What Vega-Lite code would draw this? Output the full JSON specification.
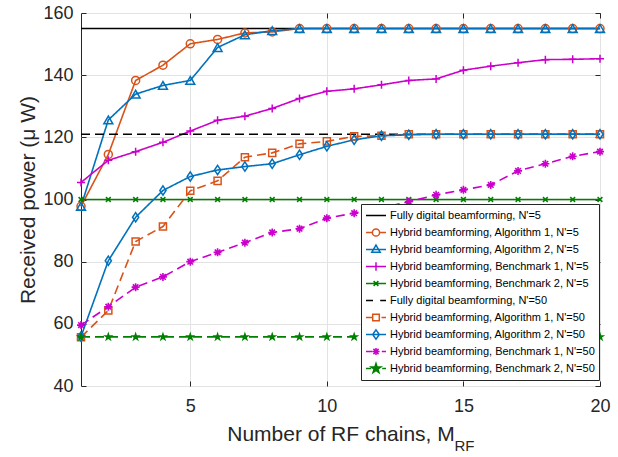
{
  "$schema": "https://vega.github.io/schema/vega-lite/v6.json",
  "width": 519,
  "height": 373,
  "autosize": {"type": "none"},
  "padding": {"left": 81, "top": 13, "right": 18, "bottom": 71},
  "background": "#ffffff",
  "title": {"text": "RF", "orient": "bottom", "anchor": "middle", "dx": 124, "offset": -5, "fontSize": 15, "fontWeight": "normal", "color": "#262626", "font": "Liberation Sans"},
  "config": {
    "font": "Liberation Sans",
    "view": {"stroke": "#262626", "strokeWidth": 1},
    "axis": {"labelFont": "Liberation Sans", "labelFontSize": 18, "labelColor": "#262626", "titleFont": "Liberation Sans", "titleFontSize": 21, "titleFontWeight": "normal", "titleColor": "#262626", "gridColor": "#e3e3e3", "gridWidth": 1, "domain": false, "tickColor": "#262626", "tickSize": -5, "labelFlush": false},
    "legend": {"labelFont": "Liberation Sans", "labelFontSize": 11, "labelColor": "#000000", "labelLimit": 400, "symbolSize": 400, "symbolStrokeWidth": 1.5, "symbolOpacity": 1, "clipHeight": 15, "rowPadding": 2, "padding": 4, "labelOffset": 3, "strokeColor": "#262626", "fillColor": "#ffffff", "cornerRadius": 0}
  },
  "data": {"values": [
    {"M":1,"P":155,"s":"Fully digital beamforming, N'=5"},{"M":2,"P":155,"s":"Fully digital beamforming, N'=5"},{"M":3,"P":155,"s":"Fully digital beamforming, N'=5"},{"M":4,"P":155,"s":"Fully digital beamforming, N'=5"},{"M":5,"P":155,"s":"Fully digital beamforming, N'=5"},{"M":6,"P":155,"s":"Fully digital beamforming, N'=5"},{"M":7,"P":155,"s":"Fully digital beamforming, N'=5"},{"M":8,"P":155,"s":"Fully digital beamforming, N'=5"},{"M":9,"P":155,"s":"Fully digital beamforming, N'=5"},{"M":10,"P":155,"s":"Fully digital beamforming, N'=5"},{"M":11,"P":155,"s":"Fully digital beamforming, N'=5"},{"M":12,"P":155,"s":"Fully digital beamforming, N'=5"},{"M":13,"P":155,"s":"Fully digital beamforming, N'=5"},{"M":14,"P":155,"s":"Fully digital beamforming, N'=5"},{"M":15,"P":155,"s":"Fully digital beamforming, N'=5"},{"M":16,"P":155,"s":"Fully digital beamforming, N'=5"},{"M":17,"P":155,"s":"Fully digital beamforming, N'=5"},{"M":18,"P":155,"s":"Fully digital beamforming, N'=5"},{"M":19,"P":155,"s":"Fully digital beamforming, N'=5"},{"M":20,"P":155,"s":"Fully digital beamforming, N'=5"},
    {"M":1,"P":97.8,"s":"Hybrid beamforming, Algorithm 1, N'=5"},{"M":2,"P":114.5,"s":"Hybrid beamforming, Algorithm 1, N'=5"},{"M":3,"P":138.3,"s":"Hybrid beamforming, Algorithm 1, N'=5"},{"M":4,"P":143.2,"s":"Hybrid beamforming, Algorithm 1, N'=5"},{"M":5,"P":150.1,"s":"Hybrid beamforming, Algorithm 1, N'=5"},{"M":6,"P":151.5,"s":"Hybrid beamforming, Algorithm 1, N'=5"},{"M":7,"P":153.6,"s":"Hybrid beamforming, Algorithm 1, N'=5"},{"M":8,"P":153.9,"s":"Hybrid beamforming, Algorithm 1, N'=5"},{"M":9,"P":155,"s":"Hybrid beamforming, Algorithm 1, N'=5"},{"M":10,"P":155,"s":"Hybrid beamforming, Algorithm 1, N'=5"},{"M":11,"P":155,"s":"Hybrid beamforming, Algorithm 1, N'=5"},{"M":12,"P":155,"s":"Hybrid beamforming, Algorithm 1, N'=5"},{"M":13,"P":155,"s":"Hybrid beamforming, Algorithm 1, N'=5"},{"M":14,"P":155,"s":"Hybrid beamforming, Algorithm 1, N'=5"},{"M":15,"P":155,"s":"Hybrid beamforming, Algorithm 1, N'=5"},{"M":16,"P":155,"s":"Hybrid beamforming, Algorithm 1, N'=5"},{"M":17,"P":155,"s":"Hybrid beamforming, Algorithm 1, N'=5"},{"M":18,"P":155,"s":"Hybrid beamforming, Algorithm 1, N'=5"},{"M":19,"P":155,"s":"Hybrid beamforming, Algorithm 1, N'=5"},{"M":20,"P":155,"s":"Hybrid beamforming, Algorithm 1, N'=5"},
    {"M":1,"P":97.8,"s":"Hybrid beamforming, Algorithm 2, N'=5"},{"M":2,"P":125.6,"s":"Hybrid beamforming, Algorithm 2, N'=5"},{"M":3,"P":133.9,"s":"Hybrid beamforming, Algorithm 2, N'=5"},{"M":4,"P":136.7,"s":"Hybrid beamforming, Algorithm 2, N'=5"},{"M":5,"P":138.3,"s":"Hybrid beamforming, Algorithm 2, N'=5"},{"M":6,"P":148.9,"s":"Hybrid beamforming, Algorithm 2, N'=5"},{"M":7,"P":153,"s":"Hybrid beamforming, Algorithm 2, N'=5"},{"M":8,"P":154.3,"s":"Hybrid beamforming, Algorithm 2, N'=5"},{"M":9,"P":155,"s":"Hybrid beamforming, Algorithm 2, N'=5"},{"M":10,"P":155,"s":"Hybrid beamforming, Algorithm 2, N'=5"},{"M":11,"P":155,"s":"Hybrid beamforming, Algorithm 2, N'=5"},{"M":12,"P":155,"s":"Hybrid beamforming, Algorithm 2, N'=5"},{"M":13,"P":155,"s":"Hybrid beamforming, Algorithm 2, N'=5"},{"M":14,"P":155,"s":"Hybrid beamforming, Algorithm 2, N'=5"},{"M":15,"P":155,"s":"Hybrid beamforming, Algorithm 2, N'=5"},{"M":16,"P":155,"s":"Hybrid beamforming, Algorithm 2, N'=5"},{"M":17,"P":155,"s":"Hybrid beamforming, Algorithm 2, N'=5"},{"M":18,"P":155,"s":"Hybrid beamforming, Algorithm 2, N'=5"},{"M":19,"P":155,"s":"Hybrid beamforming, Algorithm 2, N'=5"},{"M":20,"P":155,"s":"Hybrid beamforming, Algorithm 2, N'=5"},
    {"M":1,"P":105.5,"s":"Hybrid beamforming, Benchmark 1, N'=5"},{"M":2,"P":112.6,"s":"Hybrid beamforming, Benchmark 1, N'=5"},{"M":3,"P":115.4,"s":"Hybrid beamforming, Benchmark 1, N'=5"},{"M":4,"P":118.4,"s":"Hybrid beamforming, Benchmark 1, N'=5"},{"M":5,"P":122,"s":"Hybrid beamforming, Benchmark 1, N'=5"},{"M":6,"P":125.5,"s":"Hybrid beamforming, Benchmark 1, N'=5"},{"M":7,"P":126.8,"s":"Hybrid beamforming, Benchmark 1, N'=5"},{"M":8,"P":129.3,"s":"Hybrid beamforming, Benchmark 1, N'=5"},{"M":9,"P":132.5,"s":"Hybrid beamforming, Benchmark 1, N'=5"},{"M":10,"P":134.8,"s":"Hybrid beamforming, Benchmark 1, N'=5"},{"M":11,"P":135.6,"s":"Hybrid beamforming, Benchmark 1, N'=5"},{"M":12,"P":136.9,"s":"Hybrid beamforming, Benchmark 1, N'=5"},{"M":13,"P":138.3,"s":"Hybrid beamforming, Benchmark 1, N'=5"},{"M":14,"P":138.8,"s":"Hybrid beamforming, Benchmark 1, N'=5"},{"M":15,"P":141.6,"s":"Hybrid beamforming, Benchmark 1, N'=5"},{"M":16,"P":142.9,"s":"Hybrid beamforming, Benchmark 1, N'=5"},{"M":17,"P":144,"s":"Hybrid beamforming, Benchmark 1, N'=5"},{"M":18,"P":145,"s":"Hybrid beamforming, Benchmark 1, N'=5"},{"M":19,"P":145.1,"s":"Hybrid beamforming, Benchmark 1, N'=5"},{"M":20,"P":145.3,"s":"Hybrid beamforming, Benchmark 1, N'=5"},
    {"M":1,"P":100,"s":"Hybrid beamforming, Benchmark 2, N'=5"},{"M":2,"P":100,"s":"Hybrid beamforming, Benchmark 2, N'=5"},{"M":3,"P":100,"s":"Hybrid beamforming, Benchmark 2, N'=5"},{"M":4,"P":100,"s":"Hybrid beamforming, Benchmark 2, N'=5"},{"M":5,"P":100,"s":"Hybrid beamforming, Benchmark 2, N'=5"},{"M":6,"P":100,"s":"Hybrid beamforming, Benchmark 2, N'=5"},{"M":7,"P":100,"s":"Hybrid beamforming, Benchmark 2, N'=5"},{"M":8,"P":100,"s":"Hybrid beamforming, Benchmark 2, N'=5"},{"M":9,"P":100,"s":"Hybrid beamforming, Benchmark 2, N'=5"},{"M":10,"P":100,"s":"Hybrid beamforming, Benchmark 2, N'=5"},{"M":11,"P":100,"s":"Hybrid beamforming, Benchmark 2, N'=5"},{"M":12,"P":100,"s":"Hybrid beamforming, Benchmark 2, N'=5"},{"M":13,"P":100,"s":"Hybrid beamforming, Benchmark 2, N'=5"},{"M":14,"P":100,"s":"Hybrid beamforming, Benchmark 2, N'=5"},{"M":15,"P":100,"s":"Hybrid beamforming, Benchmark 2, N'=5"},{"M":16,"P":100,"s":"Hybrid beamforming, Benchmark 2, N'=5"},{"M":17,"P":100,"s":"Hybrid beamforming, Benchmark 2, N'=5"},{"M":18,"P":100,"s":"Hybrid beamforming, Benchmark 2, N'=5"},{"M":19,"P":100,"s":"Hybrid beamforming, Benchmark 2, N'=5"},{"M":20,"P":100,"s":"Hybrid beamforming, Benchmark 2, N'=5"},
    {"M":1,"P":121,"s":"Fully digital beamforming, N'=50"},{"M":2,"P":121,"s":"Fully digital beamforming, N'=50"},{"M":3,"P":121,"s":"Fully digital beamforming, N'=50"},{"M":4,"P":121,"s":"Fully digital beamforming, N'=50"},{"M":5,"P":121,"s":"Fully digital beamforming, N'=50"},{"M":6,"P":121,"s":"Fully digital beamforming, N'=50"},{"M":7,"P":121,"s":"Fully digital beamforming, N'=50"},{"M":8,"P":121,"s":"Fully digital beamforming, N'=50"},{"M":9,"P":121,"s":"Fully digital beamforming, N'=50"},{"M":10,"P":121,"s":"Fully digital beamforming, N'=50"},{"M":11,"P":121,"s":"Fully digital beamforming, N'=50"},{"M":12,"P":121,"s":"Fully digital beamforming, N'=50"},{"M":13,"P":121,"s":"Fully digital beamforming, N'=50"},{"M":14,"P":121,"s":"Fully digital beamforming, N'=50"},{"M":15,"P":121,"s":"Fully digital beamforming, N'=50"},{"M":16,"P":121,"s":"Fully digital beamforming, N'=50"},{"M":17,"P":121,"s":"Fully digital beamforming, N'=50"},{"M":18,"P":121,"s":"Fully digital beamforming, N'=50"},{"M":19,"P":121,"s":"Fully digital beamforming, N'=50"},{"M":20,"P":121,"s":"Fully digital beamforming, N'=50"},
    {"M":1,"P":55.7,"s":"Hybrid beamforming, Algorithm 1, N'=50"},{"M":2,"P":64.3,"s":"Hybrid beamforming, Algorithm 1, N'=50"},{"M":3,"P":86.5,"s":"Hybrid beamforming, Algorithm 1, N'=50"},{"M":4,"P":91.3,"s":"Hybrid beamforming, Algorithm 1, N'=50"},{"M":5,"P":102.8,"s":"Hybrid beamforming, Algorithm 1, N'=50"},{"M":6,"P":106,"s":"Hybrid beamforming, Algorithm 1, N'=50"},{"M":7,"P":113.6,"s":"Hybrid beamforming, Algorithm 1, N'=50"},{"M":8,"P":115,"s":"Hybrid beamforming, Algorithm 1, N'=50"},{"M":9,"P":117.9,"s":"Hybrid beamforming, Algorithm 1, N'=50"},{"M":10,"P":118.7,"s":"Hybrid beamforming, Algorithm 1, N'=50"},{"M":11,"P":120.3,"s":"Hybrid beamforming, Algorithm 1, N'=50"},{"M":12,"P":120.5,"s":"Hybrid beamforming, Algorithm 1, N'=50"},{"M":13,"P":121,"s":"Hybrid beamforming, Algorithm 1, N'=50"},{"M":14,"P":121,"s":"Hybrid beamforming, Algorithm 1, N'=50"},{"M":15,"P":121,"s":"Hybrid beamforming, Algorithm 1, N'=50"},{"M":16,"P":121,"s":"Hybrid beamforming, Algorithm 1, N'=50"},{"M":17,"P":121,"s":"Hybrid beamforming, Algorithm 1, N'=50"},{"M":18,"P":121,"s":"Hybrid beamforming, Algorithm 1, N'=50"},{"M":19,"P":121,"s":"Hybrid beamforming, Algorithm 1, N'=50"},{"M":20,"P":121,"s":"Hybrid beamforming, Algorithm 1, N'=50"},
    {"M":1,"P":55.9,"s":"Hybrid beamforming, Algorithm 2, N'=50"},{"M":2,"P":80.3,"s":"Hybrid beamforming, Algorithm 2, N'=50"},{"M":3,"P":94.3,"s":"Hybrid beamforming, Algorithm 2, N'=50"},{"M":4,"P":102.9,"s":"Hybrid beamforming, Algorithm 2, N'=50"},{"M":5,"P":107.4,"s":"Hybrid beamforming, Algorithm 2, N'=50"},{"M":6,"P":109.5,"s":"Hybrid beamforming, Algorithm 2, N'=50"},{"M":7,"P":110.6,"s":"Hybrid beamforming, Algorithm 2, N'=50"},{"M":8,"P":111.5,"s":"Hybrid beamforming, Algorithm 2, N'=50"},{"M":9,"P":114.4,"s":"Hybrid beamforming, Algorithm 2, N'=50"},{"M":10,"P":117.1,"s":"Hybrid beamforming, Algorithm 2, N'=50"},{"M":11,"P":119.2,"s":"Hybrid beamforming, Algorithm 2, N'=50"},{"M":12,"P":120.5,"s":"Hybrid beamforming, Algorithm 2, N'=50"},{"M":13,"P":120.8,"s":"Hybrid beamforming, Algorithm 2, N'=50"},{"M":14,"P":121,"s":"Hybrid beamforming, Algorithm 2, N'=50"},{"M":15,"P":121,"s":"Hybrid beamforming, Algorithm 2, N'=50"},{"M":16,"P":121,"s":"Hybrid beamforming, Algorithm 2, N'=50"},{"M":17,"P":121,"s":"Hybrid beamforming, Algorithm 2, N'=50"},{"M":18,"P":121,"s":"Hybrid beamforming, Algorithm 2, N'=50"},{"M":19,"P":121,"s":"Hybrid beamforming, Algorithm 2, N'=50"},{"M":20,"P":121,"s":"Hybrid beamforming, Algorithm 2, N'=50"},
    {"M":1,"P":59.6,"s":"Hybrid beamforming, Benchmark 1, N'=50"},{"M":2,"P":65.5,"s":"Hybrid beamforming, Benchmark 1, N'=50"},{"M":3,"P":71.8,"s":"Hybrid beamforming, Benchmark 1, N'=50"},{"M":4,"P":75.1,"s":"Hybrid beamforming, Benchmark 1, N'=50"},{"M":5,"P":80,"s":"Hybrid beamforming, Benchmark 1, N'=50"},{"M":6,"P":83,"s":"Hybrid beamforming, Benchmark 1, N'=50"},{"M":7,"P":86.1,"s":"Hybrid beamforming, Benchmark 1, N'=50"},{"M":8,"P":89.4,"s":"Hybrid beamforming, Benchmark 1, N'=50"},{"M":9,"P":90.6,"s":"Hybrid beamforming, Benchmark 1, N'=50"},{"M":10,"P":94,"s":"Hybrid beamforming, Benchmark 1, N'=50"},{"M":11,"P":95.6,"s":"Hybrid beamforming, Benchmark 1, N'=50"},{"M":12,"P":97.3,"s":"Hybrid beamforming, Benchmark 1, N'=50"},{"M":13,"P":99.3,"s":"Hybrid beamforming, Benchmark 1, N'=50"},{"M":14,"P":101.5,"s":"Hybrid beamforming, Benchmark 1, N'=50"},{"M":15,"P":103.1,"s":"Hybrid beamforming, Benchmark 1, N'=50"},{"M":16,"P":104.7,"s":"Hybrid beamforming, Benchmark 1, N'=50"},{"M":17,"P":109.2,"s":"Hybrid beamforming, Benchmark 1, N'=50"},{"M":18,"P":111.5,"s":"Hybrid beamforming, Benchmark 1, N'=50"},{"M":19,"P":113.9,"s":"Hybrid beamforming, Benchmark 1, N'=50"},{"M":20,"P":115.4,"s":"Hybrid beamforming, Benchmark 1, N'=50"},
    {"M":1,"P":55.8,"s":"Hybrid beamforming, Benchmark 2, N'=50"},{"M":2,"P":55.8,"s":"Hybrid beamforming, Benchmark 2, N'=50"},{"M":3,"P":55.8,"s":"Hybrid beamforming, Benchmark 2, N'=50"},{"M":4,"P":55.8,"s":"Hybrid beamforming, Benchmark 2, N'=50"},{"M":5,"P":55.8,"s":"Hybrid beamforming, Benchmark 2, N'=50"},{"M":6,"P":55.8,"s":"Hybrid beamforming, Benchmark 2, N'=50"},{"M":7,"P":55.8,"s":"Hybrid beamforming, Benchmark 2, N'=50"},{"M":8,"P":55.8,"s":"Hybrid beamforming, Benchmark 2, N'=50"},{"M":9,"P":55.8,"s":"Hybrid beamforming, Benchmark 2, N'=50"},{"M":10,"P":55.8,"s":"Hybrid beamforming, Benchmark 2, N'=50"},{"M":11,"P":55.8,"s":"Hybrid beamforming, Benchmark 2, N'=50"},{"M":12,"P":55.8,"s":"Hybrid beamforming, Benchmark 2, N'=50"},{"M":13,"P":55.8,"s":"Hybrid beamforming, Benchmark 2, N'=50"},{"M":14,"P":55.8,"s":"Hybrid beamforming, Benchmark 2, N'=50"},{"M":15,"P":55.8,"s":"Hybrid beamforming, Benchmark 2, N'=50"},{"M":16,"P":55.8,"s":"Hybrid beamforming, Benchmark 2, N'=50"},{"M":17,"P":55.8,"s":"Hybrid beamforming, Benchmark 2, N'=50"},{"M":18,"P":55.8,"s":"Hybrid beamforming, Benchmark 2, N'=50"},{"M":19,"P":55.8,"s":"Hybrid beamforming, Benchmark 2, N'=50"},{"M":20,"P":55.8,"s":"Hybrid beamforming, Benchmark 2, N'=50"}
  ]},
  "encoding": {
    "x": {"field": "M", "type": "quantitative", "scale": {"domain": [1, 20], "nice": false, "zero": false}, "axis": null},
    "y": {"field": "P", "type": "quantitative", "scale": {"domain": [40, 160], "nice": false, "zero": false}, "axis": null}
  },
  "resolve": {"axis": {"x": "independent", "y": "independent"}},
  "layer": [
    {
      "mark": {"type": "line", "strokeWidth": 1.6},
      "encoding": {
        "x": {"field": "M", "type": "quantitative", "scale": {"domain": [1, 20], "nice": false, "zero": false}, "axis": {"orient": "bottom", "values": [5, 10, 15, 20], "title": "Number of RF chains, M", "grid": true, "labelPadding": 16, "titlePadding": 8}},
        "y": {"field": "P", "type": "quantitative", "scale": {"domain": [40, 160], "nice": false, "zero": false}, "axis": {"orient": "left", "values": [40, 60, 80, 100, 120, 140, 160], "title": "Received power (μ W)", "grid": true, "labelPadding": 13, "titlePadding": 4}},
        "color": {"field": "s", "type": "nominal", "legend": null, "scale": {
          "domain": ["Fully digital beamforming, N'=5", "Hybrid beamforming, Algorithm 1, N'=5", "Hybrid beamforming, Algorithm 2, N'=5", "Hybrid beamforming, Benchmark 1, N'=5", "Hybrid beamforming, Benchmark 2, N'=5", "Fully digital beamforming, N'=50", "Hybrid beamforming, Algorithm 1, N'=50", "Hybrid beamforming, Algorithm 2, N'=50", "Hybrid beamforming, Benchmark 1, N'=50", "Hybrid beamforming, Benchmark 2, N'=50", "(none)"],
          "range": ["#000000", "#D95319", "#0072BD", "#CC00CC", "#008000", "#000000", "#D95319", "#0072BD", "#CC00CC", "#008000", "#000000"]}},
        "strokeDash": {"field": "s", "type": "nominal", "legend": null, "scale": {
          "domain": ["Fully digital beamforming, N'=5", "Hybrid beamforming, Algorithm 1, N'=5", "Hybrid beamforming, Algorithm 2, N'=5", "Hybrid beamforming, Benchmark 1, N'=5", "Hybrid beamforming, Benchmark 2, N'=5", "Fully digital beamforming, N'=50", "Hybrid beamforming, Algorithm 1, N'=50", "Hybrid beamforming, Algorithm 2, N'=50", "Hybrid beamforming, Benchmark 1, N'=50", "Hybrid beamforming, Benchmark 2, N'=50", "(none)"],
          "range": [[1, 0], [1, 0], [1, 0], [1, 0], [1, 0], [9, 5], [9, 5], [1, 0], [9, 5], [9, 5], [1, 0]]}}
      }
    },
    {
      "mark": {"type": "point", "opacity": 0},
      "encoding": {
        "x": {"field": "M", "type": "quantitative", "scale": {"domain": [1, 20], "nice": false, "zero": false}, "axis": {"orient": "top", "values": [5, 10, 15, 20], "title": null, "labels": false, "grid": false}},
        "y": {"field": "P", "type": "quantitative", "scale": {"domain": [40, 160], "nice": false, "zero": false}, "axis": {"orient": "right", "values": [40, 60, 80, 100, 120, 140, 160], "title": null, "labels": false, "grid": false}}
      }
    },
    {"transform": [{"filter": {"field": "s", "equal": "Hybrid beamforming, Algorithm 1, N'=5"}}], "mark": {"type": "point", "shape": "circle", "filled": false, "size": 64, "strokeWidth": 1.5, "color": "#D95319", "opacity": 1}},
    {"transform": [{"filter": {"field": "s", "equal": "Hybrid beamforming, Algorithm 2, N'=5"}}], "mark": {"type": "point", "shape": "triangle-up", "filled": false, "size": 80, "strokeWidth": 1.5, "color": "#0072BD", "opacity": 1}},
    {"transform": [{"filter": {"field": "s", "equal": "Hybrid beamforming, Benchmark 1, N'=5"}}], "mark": {"type": "point", "shape": "M-1,0L1,0M0,-1L0,1", "filled": false, "size": 64, "strokeWidth": 1.5, "color": "#CC00CC", "opacity": 1}},
    {"transform": [{"filter": {"field": "s", "equal": "Hybrid beamforming, Benchmark 2, N'=5"}}], "mark": {"type": "point", "shape": "M-0.6,-0.6L0.6,0.6M-0.6,0.6L0.6,-0.6", "filled": false, "size": 64, "strokeWidth": 1.5, "color": "#008000", "opacity": 1}},
    {"transform": [{"filter": {"field": "s", "equal": "Hybrid beamforming, Algorithm 1, N'=50"}}], "mark": {"type": "point", "shape": "square", "filled": false, "size": 50, "strokeWidth": 1.5, "color": "#D95319", "opacity": 1}},
    {"transform": [{"filter": {"field": "s", "equal": "Hybrid beamforming, Algorithm 2, N'=50"}}], "mark": {"type": "point", "shape": "M0,-1.2L0.8,0L0,1.2L-0.8,0Z", "filled": false, "size": 60, "strokeWidth": 1.5, "color": "#0072BD", "opacity": 1}},
    {"transform": [{"filter": {"field": "s", "equal": "Hybrid beamforming, Benchmark 1, N'=50"}}], "mark": {"type": "point", "shape": "M-1,0L1,0M0,-1L0,1M-0.7,-0.7L0.7,0.7M-0.7,0.7L0.7,-0.7", "filled": false, "size": 64, "strokeWidth": 1.6, "color": "#CC00CC", "opacity": 1}},
    {"transform": [{"filter": {"field": "s", "equal": "Hybrid beamforming, Benchmark 2, N'=50"}}], "mark": {"type": "point", "shape": "M0,-1L0.225,-0.309L0.951,-0.309L0.363,0.118L0.588,0.809L0,0.382L-0.588,0.809L-0.363,0.118L-0.951,-0.309L-0.225,-0.309Z", "filled": true, "size": 120, "color": "#008000", "opacity": 1}},
    {
      "mark": {"type": "point", "filled": false, "size": 0, "strokeWidth": 1.5},
      "encoding": {
        "stroke": {"field": "s", "type": "nominal", "legend": {"title": null, "orient": "none", "legendX": 280, "legendY": 191}, "scale": {
          "domain": ["Fully digital beamforming, N'=5", "Hybrid beamforming, Algorithm 1, N'=5", "Hybrid beamforming, Algorithm 2, N'=5", "Hybrid beamforming, Benchmark 1, N'=5", "Hybrid beamforming, Benchmark 2, N'=5", "Fully digital beamforming, N'=50", "Hybrid beamforming, Algorithm 1, N'=50", "Hybrid beamforming, Algorithm 2, N'=50", "Hybrid beamforming, Benchmark 1, N'=50", "Hybrid beamforming, Benchmark 2, N'=50"],
          "range": ["#000000", "#D95319", "#0072BD", "#CC00CC", "#008000", "#000000", "#D95319", "#0072BD", "#CC00CC", "#008000"]}},
        "fill": {"field": "s", "type": "nominal", "legend": {"title": null, "orient": "none", "legendX": 280, "legendY": 191}, "scale": {
          "domain": ["Fully digital beamforming, N'=5", "Hybrid beamforming, Algorithm 1, N'=5", "Hybrid beamforming, Algorithm 2, N'=5", "Hybrid beamforming, Benchmark 1, N'=5", "Hybrid beamforming, Benchmark 2, N'=5", "Fully digital beamforming, N'=50", "Hybrid beamforming, Algorithm 1, N'=50", "Hybrid beamforming, Algorithm 2, N'=50", "Hybrid beamforming, Benchmark 1, N'=50", "Hybrid beamforming, Benchmark 2, N'=50"],
          "range": ["transparent", "transparent", "transparent", "transparent", "transparent", "transparent", "transparent", "transparent", "transparent", "#008000"]}},
        "shape": {"field": "s", "type": "nominal", "legend": {"title": null, "orient": "none", "legendX": 280, "legendY": 191}, "scale": {
          "domain": ["Fully digital beamforming, N'=5", "Hybrid beamforming, Algorithm 1, N'=5", "Hybrid beamforming, Algorithm 2, N'=5", "Hybrid beamforming, Benchmark 1, N'=5", "Hybrid beamforming, Benchmark 2, N'=5", "Fully digital beamforming, N'=50", "Hybrid beamforming, Algorithm 1, N'=50", "Hybrid beamforming, Algorithm 2, N'=50", "Hybrid beamforming, Benchmark 1, N'=50", "Hybrid beamforming, Benchmark 2, N'=50"],
          "range": [
            "M-1,0L1,0",
            "M-1,0L-0.36,0M0.36,0L1,0M-0.36,0A0.36,0.36 0 1 1 0.36,0A0.36,0.36 0 1 1 -0.36,0",
            "M-1,0L1,0M0,-0.44L0.42,0.28L-0.42,0.28Z",
            "M-1,0L1,0M0,-0.42L0,0.42",
            "M-1,0L1,0M-0.24,-0.24L0.24,0.24M-0.24,0.24L0.24,-0.24",
            "M-1,0L-0.3,0M0.42,0L1,0",
            "M-1,0L-0.33,0M-0.33,-0.33L0.33,-0.33L0.33,0.33L-0.33,0.33ZM0.55,0L1,0",
            "M-1,0L1,0M0,-0.46L0.33,0L0,0.46L-0.33,0Z",
            "M-1,0L-0.38,0M0.58,0L1,0M-0.36,0L0.36,0M0,-0.36L0,0.36M-0.26,-0.26L0.26,0.26M-0.26,0.26L0.26,-0.26",
            "M-1,0L-0.48,0M0.62,0L1,0M0,-0.5L0.112,-0.154L0.476,-0.154L0.181,0.059L0.294,0.405L0,0.191L-0.294,0.405L-0.181,0.059L-0.476,-0.154L-0.112,-0.154Z"
          ]}}
      }
    }
  ]
}
